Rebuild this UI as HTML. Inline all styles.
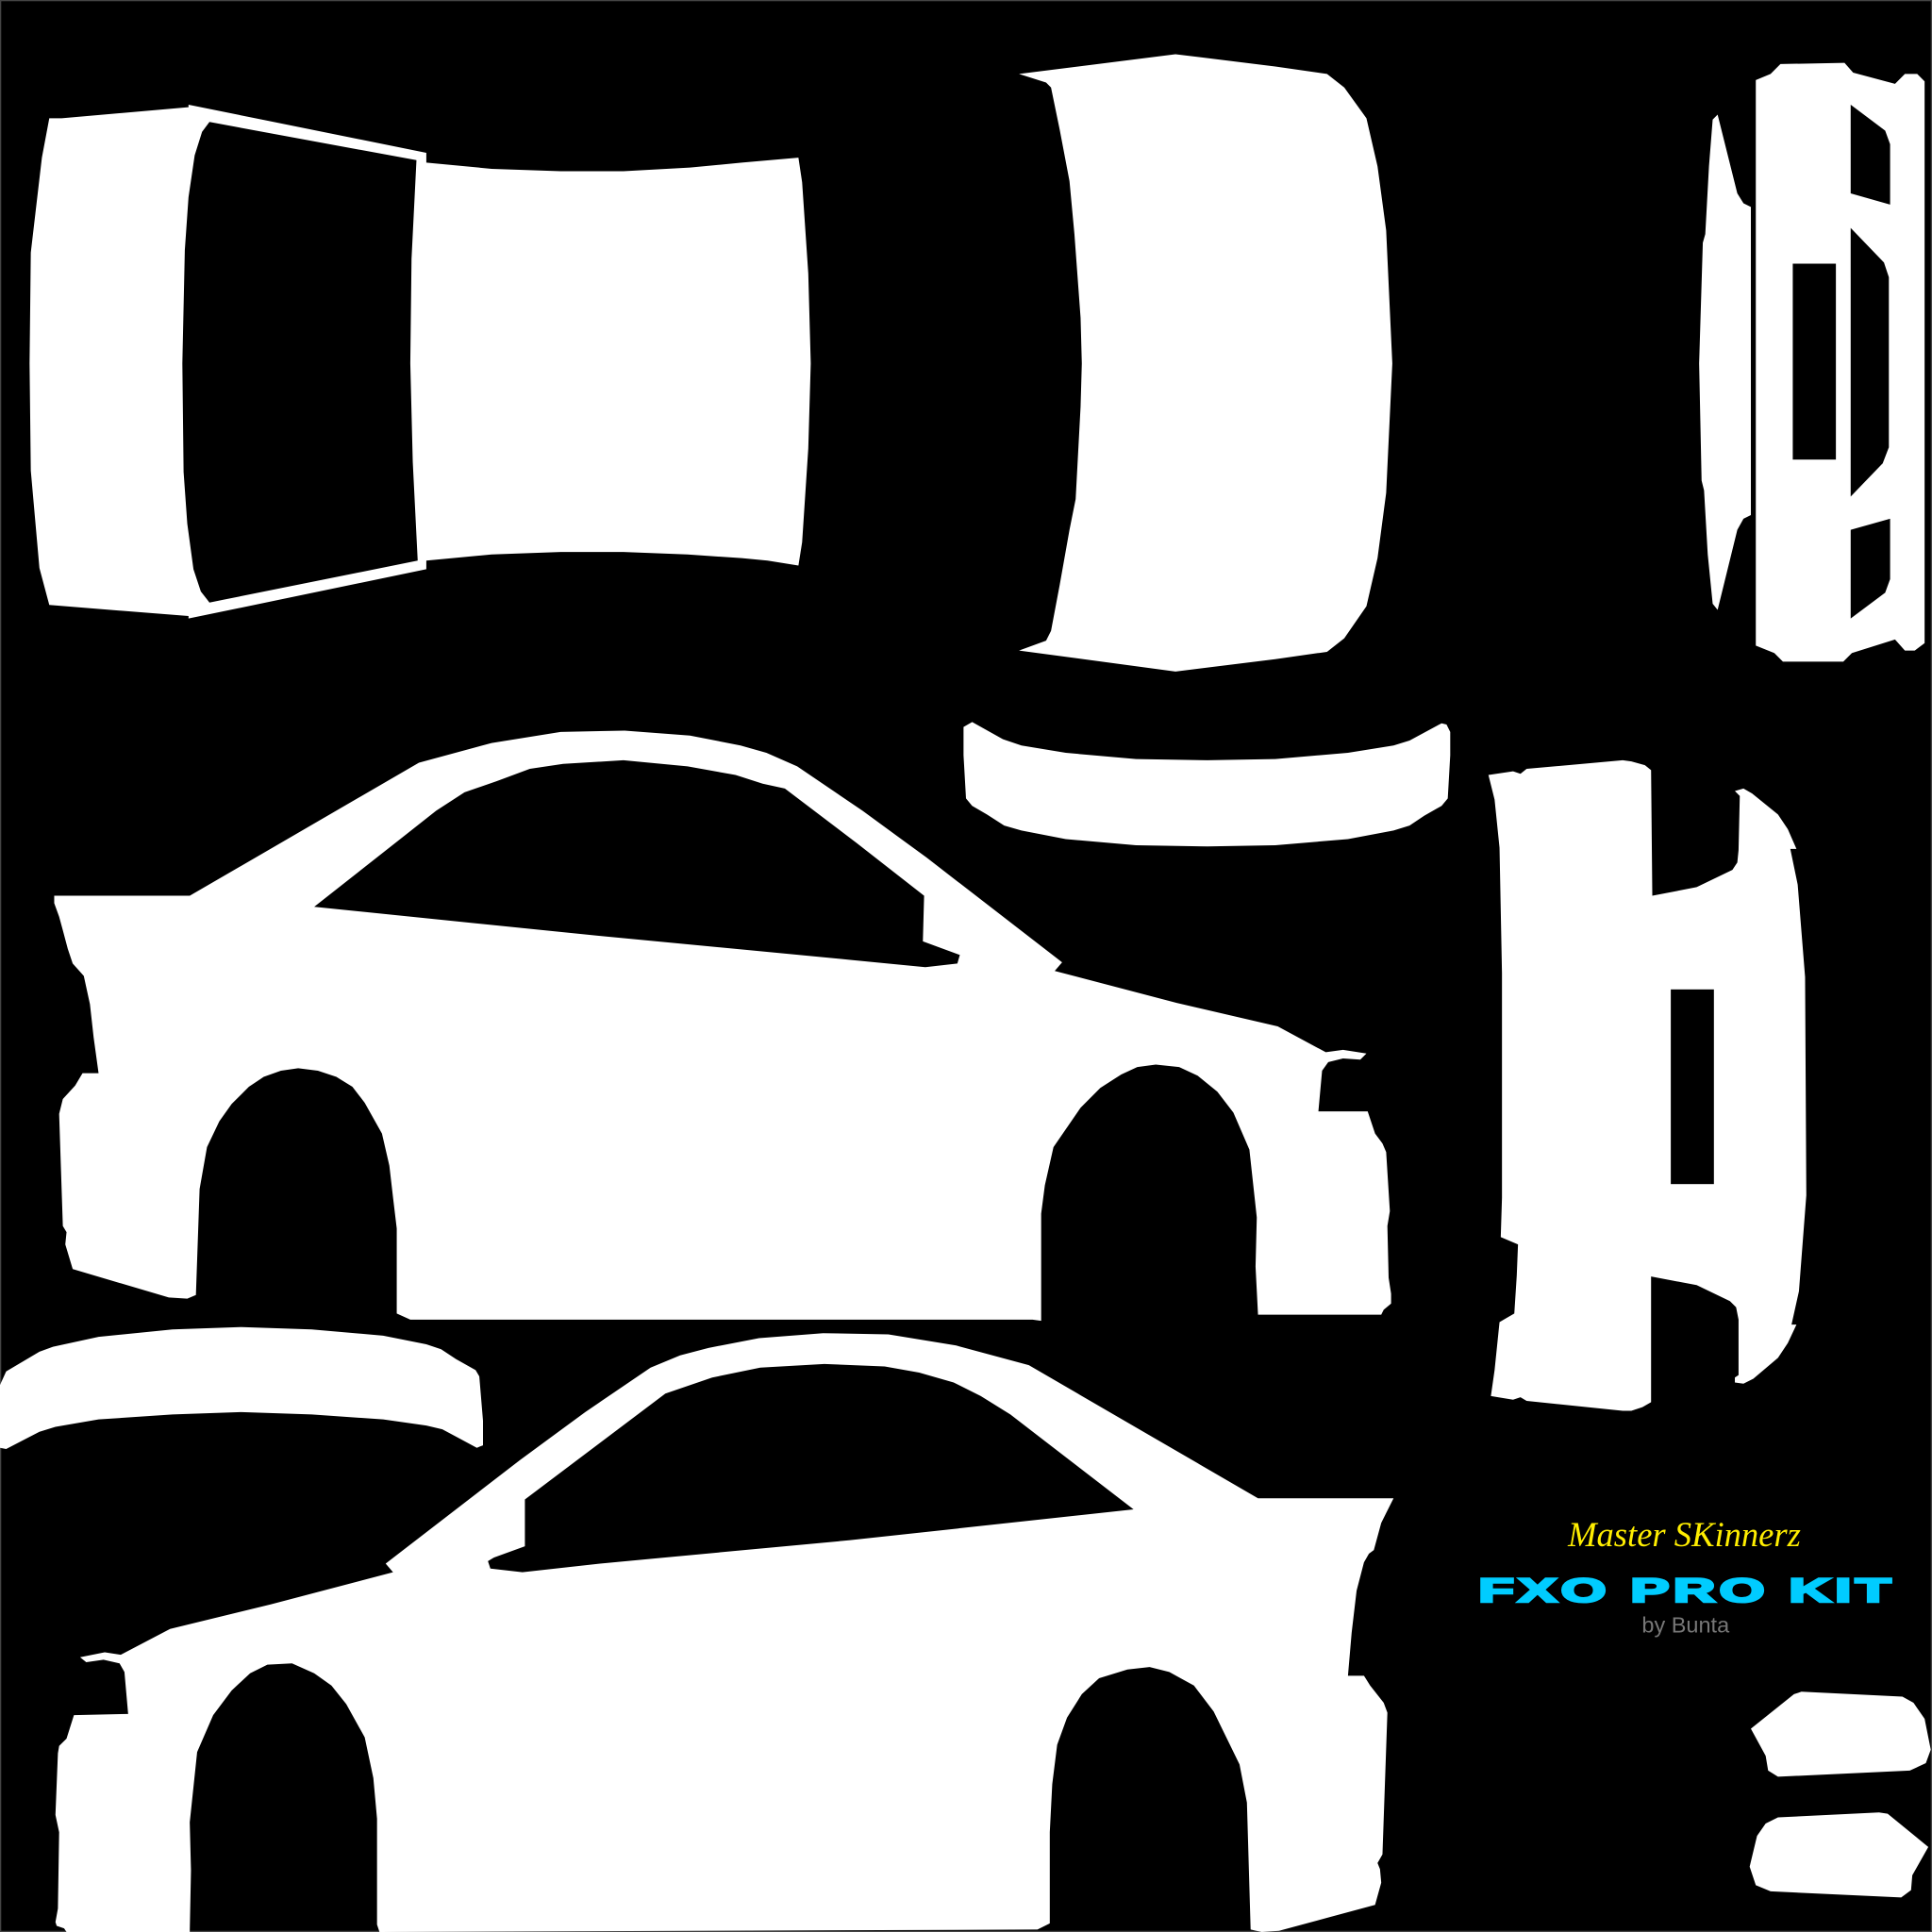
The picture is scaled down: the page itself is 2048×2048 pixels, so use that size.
<!DOCTYPE html>
<html><head><meta charset="utf-8"><style>html,body{margin:0;padding:0;background:#000}svg{display:block}</style></head>
<body>
<svg width="2048" height="2048" viewBox="0 0 1568 1568" xmlns="http://www.w3.org/2000/svg">
<rect width="1568" height="1568" fill="#000"/>
<rect x="0.5" y="0.5" width="1567" height="1567" fill="none" stroke="#444" stroke-width="1"/>
<g fill="#fff">
<polygon points="40,96 50,96 153,87 153,85 346,124 346,132 399,137 455,139 506,139 560,136 602,132 648,128 651,148 656,222 658,295 656,364 651,440 648,459 623,455 602,453 558,450 506,448 455,448 399,450 346,455 346,462 153,502 153,500 40,491 32,461 25,382 24,295 25,205 34,128"/>
<polygon points="827,60 954,44 1035,54 1077,60 1091,71 1109,96 1118,135 1125,187 1130,295 1125,400 1118,453 1109,492 1091,518 1077,529 1035,535 954,545 827,528 849,520 853,512 860,475 868,430 873,405 877,330 878,295 877,258 872,190 868,147 860,105 853,71 849,67"/>
<polygon points="1390,97 1394,93 1410,157 1415,165 1421,168 1421,418 1415,421 1410,430 1394,495 1390,490 1386,450 1383,398 1381,390 1379,295 1382,197 1384,190 1387,135"/>
<polygon points="1425,65 1437,60 1445,52 1497,51 1504,59 1538,68 1546,60 1556,60 1562,66 1562,522 1554,528 1546,528 1538,519 1503,530 1496,537 1447,537 1440,530 1425,524"/>
<polygon points="44,727 154,727 340,619 399,603 455,594 507,593 560,597 601,605 622,611 647,622 700,658 752,696 862,781 856,788 955,814 1037,833 1076,854 1090,852 1109,855 1104,860 1090,859 1078,862 1073,869 1070,902 1110,902 1116,920 1122,928 1125,935 1128,983 1126,995 1127,1037 1129,1050 1129,1058 1123,1063 1121,1067 1021,1067 1019,1028 1020,988 1014,933 1001,903 988,886 972,873 957,866 938,864 923,866 910,872 893,883 877,899 866,915 855,931 848,962 845,985 845,1072 838,1071 333,1071 322,1066 322,997 319,972 316,946 310,920 296,895 286,882 273,874 258,869 242,867 228,869 214,874 202,882 188,896 178,910 168,931 162,965 159,1051 152,1054 137,1053 59,1030 53,1010 54,1000 51,995 48,904 51,892 61,881 67,871 80,871 76,842 73,815 68,792 59,782 55,770 51,755 48,744 44,733"/>
<polygon points="1131,1216 1021,1216 835,1108 776,1092 721,1083 668,1082 616,1086 575,1094 552,1100 528,1110 475,1146 422,1185 313,1269 319,1276 220,1302 138,1322 98,1343 85,1341 65,1345 70,1349 84,1347 97,1350 101,1357 104,1391 60,1392 54,1411 48,1417 47,1423 45,1473 48,1487 47,1549 45,1560 46,1563 52,1565 54,1568 154,1568 155,1518 154,1479 160,1422 173,1392 188,1372 203,1358 217,1351 237,1350 255,1358 269,1368 281,1383 296,1410 303,1443 306,1476 306,1562 308,1568 842,1566 852,1561 852,1487 854,1448 858,1416 866,1394 878,1375 892,1362 915,1355 933,1353 949,1357 969,1368 985,1389 1006,1432 1012,1463 1015,1566 1024,1568 1038,1567 1116,1546 1121,1528 1120,1517 1118,1512 1122,1505 1126,1390 1123,1382 1112,1368 1107,1360 1094,1360 1097,1325 1101,1291 1107,1268 1111,1261 1115,1258 1121,1236 1125,1228"/>
<polygon points="782,590 789,586 814,600 829,605 865,611 922,616 980,617 1035,616 1094,611 1131,605 1144,601 1170,587 1174,588 1177,594 1177,613 1175,648 1170,654 1156,662 1144,670 1131,674 1094,681 1035,686 980,687 922,686 865,681 829,674 815,670 801,661 789,654 784,648 782,613"/>
<polygon points="0,1124 5,1113 32,1097 43,1093 80,1085 140,1079 196,1077 253,1079 311,1084 346,1091 358,1095 370,1103 386,1112 389,1117 392,1153 392,1173 387,1175 359,1160 346,1157 311,1152 253,1148 196,1146 140,1148 80,1152 45,1158 32,1162 5,1176 0,1175"/>
<polygon points="1208,629 1228,626 1234,628 1239,624 1317,617 1324,618 1335,621 1340,625 1341,727 1377,720 1406,706 1410,700 1411,690 1412,646 1408,642 1415,640 1422,644 1443,661 1451,673 1458,689 1453,689 1459,718 1465,793 1466,970 1460,1048 1454,1075 1458,1075 1451,1090 1443,1102 1423,1119 1415,1123 1408,1122 1408,1118 1411,1116 1411,1071 1409,1061 1404,1056 1377,1043 1340,1036 1340,1138 1333,1142 1324,1145 1317,1145 1239,1137 1234,1134 1228,1136 1210,1133 1213,1112 1217,1073 1229,1066 1231,1035 1232,1010 1218,1004 1219,972 1219,790 1217,688 1213,649"/>
<polygon points="1421,1403 1456,1375 1462,1373 1544,1377 1553,1382 1562,1395 1567,1420 1563,1431 1550,1437 1443,1442 1435,1437 1433,1425"/>
<polygon points="1420,1515 1426,1490 1433,1480 1443,1475 1525,1471 1532,1472 1565,1499 1552,1522 1551,1534 1543,1540 1437,1535 1425,1530"/>
</g>
<g fill="#000">
<polygon points="170,99 338,130 334,210 333,295 335,375 339,455 170,489 163,480 157,462 152,425 149,383 148,295 150,203 153,160 158,126 164,107"/>
<rect x="1455" y="214" width="35" height="159"/>
<polygon points="1502,85 1530,106 1534,117 1534,166 1502,157"/>
<polygon points="1502,185 1529,213 1533,225 1533,363 1528,376 1502,403"/>
<polygon points="1502,430 1534,421 1534,470 1530,481 1502,502"/>
<polygon points="255,736 354,658 377,643 403,634 430,624 457,620 506,617 558,622 597,629 619,636 637,640 695,684 750,727 749,764 779,775 777,782 751,785 690,779 491,760"/>
<polygon points="426,1217 540,1131 578,1118 617,1110 669,1107 718,1109 746,1114 774,1122 796,1133 820,1148 920,1225 690,1250 487,1269 424,1276 398,1273 396,1267 401,1264 426,1255"/>
<rect x="1356" y="803" width="35" height="158"/>
</g>
<text x="1367" y="1255" text-anchor="middle" font-family="'Liberation Serif',serif" font-style="italic" font-size="28" fill="#ffee00">Master SKinnerz</text>
<text x="1369" y="1300" text-anchor="middle" font-family="'Liberation Sans',sans-serif" font-weight="bold" font-size="27" letter-spacing="2" fill="#00ccff" stroke="#00ccff" stroke-width="2" textLength="338" lengthAdjust="spacingAndGlyphs">FXO PRO KIT</text>
<text x="1368" y="1325" text-anchor="middle" font-family="'Liberation Sans',sans-serif" font-size="18" fill="#777">by Bunta</text>
</svg>
</body></html>
